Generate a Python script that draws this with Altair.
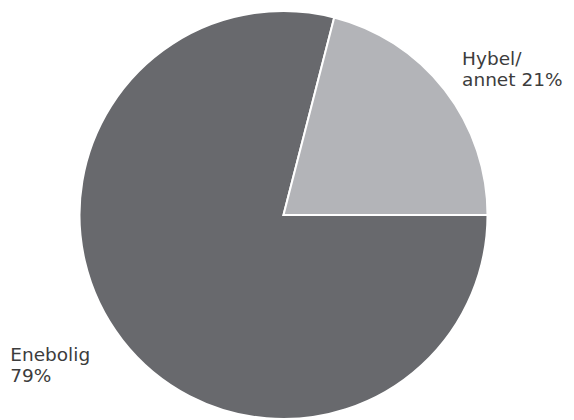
import altair as alt
import pandas as pd
import math

categories = ["Enebolig", "Hybel/annet"]
values = [79, 21]
labels = [["Enebolig", "79%"], ["Hybel/", "annet 21%"]]
colors = ["#68696d", "#b3b4b8"]

df = pd.DataFrame({"cat": categories, "val": values, "order": [0, 1],
                   "label": labels})

tscale = alt.Scale(domain=[0, 100], range=[math.pi / 2, math.pi / 2 + 2 * math.pi])
cx, cy = 275.5, 207

pie = alt.Chart(df).mark_arc(radius=204, stroke="white", strokeWidth=2).encode(
    theta=alt.Theta("val:Q", stack=True, scale=tscale),
    order=alt.Order("order:Q"),
    x=alt.value(cx), y=alt.value(cy),
    color=alt.Color("cat:N", scale=alt.Scale(domain=categories, range=colors), legend=None),
)

lbl = alt.Chart(df).transform_stack(
    stack="val", groupby=[], as_=["s0", "s1"], sort=[alt.SortField("order")]
).transform_calculate(mid="(datum.s0 + datum.s1) / 2")

common = dict(align="left", baseline="middle", lineHeight=21,
              font="DejaVu Sans", fontSize=18.5, color="#3c3c3c")

txt_h = lbl.transform_filter(alt.datum.cat == "Hybel/annet").mark_text(
    radius=226, dy=-17.5, **common
).encode(theta=alt.Theta("mid:Q", scale=tscale), x=alt.value(cx), y=alt.value(cy), text="label")

txt_e = lbl.transform_filter(alt.datum.cat == "Enebolig").mark_text(
    radius=280, dx=-52, dy=-31.5, **common
).encode(theta=alt.Theta("mid:Q", scale=tscale), x=alt.value(cx), y=alt.value(cy), text="label")

chart = alt.layer(pie, txt_h, txt_e).properties(
    width=558, height=412, autosize="none", padding=0
).configure_view(stroke=None)

chart.save("out.html", embed_options={"renderer": "svg", "actions": False})
